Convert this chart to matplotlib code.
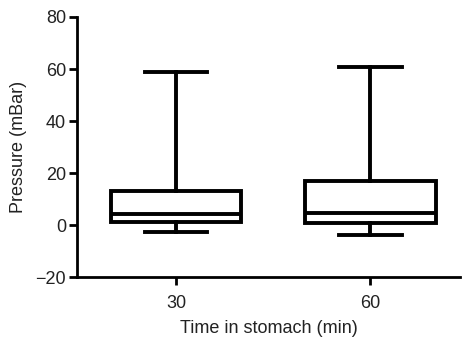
import matplotlib
matplotlib.use("Agg")
import matplotlib.pyplot as plt

plt.rcParams['font.family'] = ['Liberation Sans', 'DejaVu Sans']

# box statistics (mBar)
groups = ['30', '60']
whisker_low = [-2.6, -3.8]
q1 = [1.0, 0.9]
median = [4.1, 4.5]
q3 = [13.2, 16.9]
whisker_high = [59.0, 60.9]

stats = []
for i, g in enumerate(groups):
    stats.append({'label': g, 'whislo': whisker_low[i], 'q1': q1[i],
                  'med': median[i], 'q3': q3[i], 'whishi': whisker_high[i],
                  'fliers': []})

fig = plt.figure(figsize=(4.64, 3.40), dpi=100)
ax = fig.add_axes([0.166, 0.185, 0.825, 0.765])

lw = 2.8
ax.bxp(stats, positions=[1, 2], widths=0.67, showfliers=False,
       patch_artist=True,
       boxprops=dict(facecolor='white', edgecolor='black', linewidth=lw),
       medianprops=dict(color='black', linewidth=lw),
       whiskerprops=dict(color='black', linewidth=lw),
       capprops=dict(color='black', linewidth=lw),
       capwidths=0.32)

ax.set_xlim(0.49, 2.46)
ax.set_ylim(-20, 80)
ax.set_yticks([-20, 0, 20, 40, 60, 80])
ax.set_yticklabels(['\u221220', '0', '20', '40', '60', '80'])
ax.set_xticks([1, 2])
ax.set_xticklabels(groups)

for s in ['top', 'right']:
    ax.spines[s].set_visible(False)
for s in ['left', 'bottom']:
    ax.spines[s].set_linewidth(2.0)
txt = '#222222'
ax.tick_params(axis='both', width=2.0, length=6, labelsize=13,
               labelcolor=txt)
ax.tick_params(axis='x', pad=7)
ax.tick_params(axis='y', pad=2)

ax.set_xlabel('Time in stomach (min)', fontsize=13, labelpad=6, color=txt)
ax.set_ylabel('Pressure (mBar)', fontsize=13, labelpad=6, color=txt)

fig.savefig('out.png', dpi=100)
